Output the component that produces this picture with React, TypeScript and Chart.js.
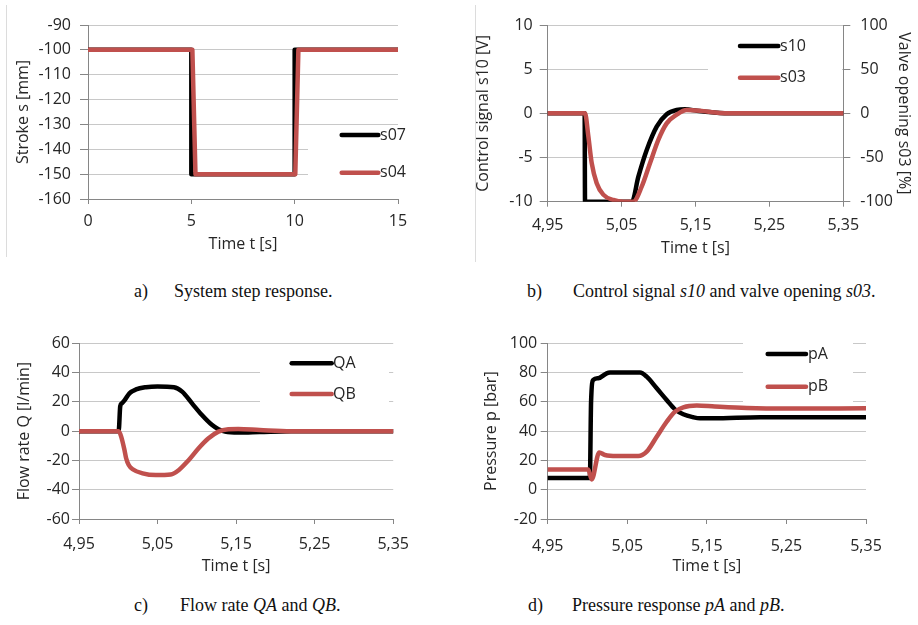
import React, { useEffect, useRef } from 'react';
import { Chart, registerables } from 'chart.js';

Chart.register(...registerables);

// ---------- data ----------
// a) System step response
const A_S07_T = [0, 5, 5, 10, 10, 15];
const A_S07_V = [-100, -100, -150, -150, -100, -100];
const A_S04_T = [0, 5.05, 5.2, 10.03, 10.18, 15];
const A_S04_V = [-100, -100, -150, -150, -100, -100];

// b) Control signal s10 [V] and valve opening s03 [%]
const B_S10_T = [4.95, 5.0, 5.0005, 5.064, 5.0726, 5.084, 5.0975, 5.111, 5.1245, 5.136, 5.152, 5.175, 5.2, 5.35];
const B_S10_V = [0, 0, -10, -10, -7.2, -4.15, -1.5, -0.1, 0.38, 0.45, 0.3, 0.1, 0, 0];
const B_S03_T = [4.95, 5.0005, 5.005, 5.0095, 5.0163, 5.0252, 5.0388, 5.0523, 5.0658, 5.0772, 5.0884, 5.0997, 5.111, 5.1245, 5.138, 5.156, 5.1833, 5.22, 5.35];
const B_S03_V = [0, 0, -26, -56, -79, -92, -98, -100, -100, -83, -56.5, -30, -11.3, -1.5, 3.8, 3, 0.5, 0, 0];

// c) Flow rate QA and QB [l/min]
const C_QA_T = [4.95, 5.0005, 5.0025, 5.0045, 5.0079, 5.0142, 5.0226, 5.0352, 5.0499, 5.0709, 5.0813, 5.0939, 5.1065, 5.1191, 5.1275, 5.136, 5.1527, 5.18, 5.22, 5.35];
const C_QA_V = [0, 0, 17, 19, 21, 25.8, 28.5, 30, 30.5, 30, 27, 19, 11, 4.3, 1.3, -0.3, -1, -0.6, 0, 0];
const C_QB_T = [4.95, 5.0005, 5.0037, 5.0079, 5.01, 5.0133, 5.0184, 5.031, 5.0478, 5.0667, 5.0772, 5.0898, 5.1023, 5.1149, 5.1275, 5.1401, 5.1527, 5.18, 5.22, 5.35];
const C_QB_V = [0, 0, -3.7, -12.9, -18.5, -23.1, -26, -28.8, -30, -29.6, -26.5, -19.7, -11.7, -4.9, -0.3, 1.3, 1.5, 0.8, 0, 0];

// d) Pressure pA and pB [bar]
const D_PA_T = [4.95, 5.003, 5.0045, 5.0073, 5.0136, 5.0241, 5.0283, 5.066, 5.0744, 5.087, 5.0995, 5.11, 5.1204, 5.133, 5.1414, 5.158, 5.2168, 5.35];
const D_PA_V = [8, 8, 60, 75, 76.1, 79.5, 80, 80, 77.2, 69.3, 61.3, 54.9, 51.5, 49.5, 48.8, 48.8, 49.5, 49.5];
const D_PB_T = [4.95, 5.001, 5.0053, 5.0148, 5.022, 5.0367, 5.0639, 5.0744, 5.087, 5.0995, 5.11, 5.1204, 5.1373, 5.16, 5.2, 5.25, 5.35];
const D_PB_V = [13.8, 13.8, 7, 25.5, 23.7, 23, 23, 26, 36.2, 46.4, 53.3, 56.3, 57.5, 56.8, 55.8, 55.4, 55.6];

const ZOOM_X_TICKS = [4.95, 5.05, 5.15, 5.25, 5.35];

// ---------- style ----------
const FONT = 'Open Sans';
const TXT = '#262626';
const AXIS = '#868686';
const GRID = '#c8c8c8';
const BLACK = '#000000';
const RED = '#c0504d';
const LW = 4.5;

Chart.defaults.font.family = FONT;
Chart.defaults.font.size = 16;
Chart.defaults.color = TXT;

const pts = (t: number[], v: number[]) => t.map((x, i) => ({ x, y: v[i] }));

function lineDs(label: string, t: number[], v: number[], color: string, order: number, smooth: boolean, yAxisID = 'y') {
  return {
    label,
    data: pts(t, v),
    borderColor: color,
    backgroundColor: color,
    borderWidth: LW,
    pointRadius: 0,
    fill: false,
    order,
    yAxisID,
    tension: 0,
    cubicInterpolationMode: smooth ? 'monotone' : 'default',
    borderJoinStyle: 'round',
    borderCapStyle: 'round',
  };
}

function makeLegend(cfg: { box: number[]; x1: number; x2: number; tx: number; rows: number[] }) {
  return {
    id: 'legendBox',
    beforeDatasetsDraw(chart: any) {
      const ctx = chart.ctx;
      ctx.save();
      ctx.fillStyle = '#ffffff';
      ctx.fillRect(cfg.box[0], cfg.box[1], cfg.box[2], cfg.box[3]);
      ctx.font = `16px "${FONT}"`;
      ctx.textBaseline = 'middle';
      ctx.textAlign = 'left';
      chart.data.datasets.forEach((ds: any, i: number) => {
        const y = cfg.rows[i];
        ctx.strokeStyle = ds.borderColor;
        ctx.lineWidth = LW;
        ctx.lineCap = 'round';
        ctx.beginPath();
        ctx.moveTo(cfg.x1, y);
        ctx.lineTo(cfg.x2, y);
        ctx.stroke();
        ctx.fillStyle = TXT;
        ctx.fillText(ds.label, cfg.tx, y);
      });
      ctx.restore();
    },
  };
}

const fmtComma = (v: any) => Number(v).toFixed(2).replace('.', ',');

function xAxis(opts: { min: number; max: number; step?: number; fixedTicks?: number[]; height: number; pad: number; titlePad: number; comma?: boolean }) {
  const s: any = {
    type: 'linear',
    min: opts.min,
    max: opts.max,
    ticks: {
      padding: opts.pad,
      maxRotation: 0,
      autoSkip: false,
      color: TXT,
    },
    grid: { drawOnChartArea: false, drawTicks: true, tickLength: 5, tickColor: AXIS },
    border: { color: AXIS, width: 1 },
    title: { display: true, text: 'Time t [s]', color: TXT, padding: { top: 0, bottom: opts.titlePad } },
    afterFit(scale: any) {
      scale.height = opts.height;
    },
  };
  if (opts.step) s.ticks.stepSize = opts.step;
  if (opts.comma) s.ticks.callback = fmtComma;
  if (opts.fixedTicks) {
    const ft = opts.fixedTicks;
    s.afterBuildTicks = (scale: any) => {
      scale.ticks = ft.map((value) => ({ value }));
    };
  }
  return s;
}

function yAxis(opts: { min: number; max: number; step: number; width: number; tl: number; pad: number; title: string; titlePad: number; position?: string; grid?: boolean }) {
  return {
    type: 'linear',
    position: opts.position || 'left',
    min: opts.min,
    max: opts.max,
    ticks: { stepSize: opts.step, padding: opts.pad, color: TXT },
    grid: {
      drawOnChartArea: opts.grid !== false,
      color: GRID,
      tickColor: AXIS,
      tickLength: opts.tl,
      lineWidth: 1,
    },
    border: { color: AXIS, width: 1 },
    title: { display: true, text: opts.title, color: TXT, padding: { top: opts.titlePad, bottom: 0 } },
    afterFit(scale: any) {
      scale.width = opts.width;
    },
  };
}

function baseOptions(padding: any, scales: any) {
  return {
    responsive: false,
    maintainAspectRatio: false,
    animation: false,
    devicePixelRatio: 1,
    layout: { padding },
    plugins: { legend: { display: false }, tooltip: { enabled: false } },
    events: [],
    scales,
  };
}

// ---------- chart configs ----------
const configA = () => ({
  type: 'line',
  data: {
    datasets: [
      lineDs('s07', A_S07_T, A_S07_V, BLACK, 1, false),
      lineDs('s04', A_S04_T, A_S04_V, RED, 0, false),
    ],
  },
  options: baseOptions({ left: 0, top: 25, right: 22, bottom: 0 }, {
    x: xAxis({ min: 0, max: 15, step: 5, height: 71, pad: 8, titlePad: 16 }),
    y: yAxis({ min: -160, max: -90, step: 10, width: 88, tl: 8, pad: 9, title: 'Stroke s [mm]', titlePad: 13.5 }),
  }),
  plugins: [makeLegend({ box: [308, 127, 90, 62], x1: 341.7, x2: 378.3, tx: 380, rows: [135, 172.7] })],
});

const configB = () => ({
  type: 'line',
  data: {
    datasets: [
      lineDs('s10', B_S10_T, B_S10_V, BLACK, 1, true, 'y'),
      lineDs('s03', B_S03_T, B_S03_V, RED, 0, true, 'y1'),
    ],
  },
  options: baseOptions({ left: 0, top: 25, right: 0, bottom: 0 }, {
    x: xAxis({ min: 4.95, max: 5.35, fixedTicks: ZOOM_X_TICKS, height: 68.3, pad: 9, titlePad: 12.4, comma: true }),
    y: yAxis({ min: -10, max: 10, step: 5, width: 87.7, tl: 8, pad: 7, title: 'Control signal s10 [V]', titlePad: 14 }),
    y1: yAxis({ min: -100, max: 100, step: 50, width: 74.7, tl: 7, pad: 10, title: 'Valve opening s03 [%]', titlePad: 5, position: 'right', grid: false }),
  }),
  plugins: [makeLegend({ box: [248, 34, 134, 60], x1: 280, x2: 318.3, tx: 320, rows: [46, 77.7] })],
});

const configC = () => ({
  type: 'line',
  data: {
    datasets: [
      lineDs('QA', C_QA_T, C_QA_V, BLACK, 1, true),
      lineDs('QB', C_QB_T, C_QB_V, RED, 0, true),
    ],
  },
  options: baseOptions({ left: 0, top: 23.3, right: 23.3, bottom: 0 }, {
    x: xAxis({ min: 4.95, max: 5.35, fixedTicks: ZOOM_X_TICKS, height: 66, pad: 11, titlePad: 9.4, comma: true }),
    y: yAxis({ min: -60, max: 60, step: 20, width: 79, tl: 7, pad: 2, title: 'Flow rate Q [l/min]', titlePad: 14.6 }),
  }),
  plugins: [makeLegend({ box: [260, 31, 129, 60], x1: 291.7, x2: 331.7, tx: 333, rows: [43.3, 74] })],
});

const configD = () => ({
  type: 'line',
  data: {
    datasets: [
      lineDs('pA', D_PA_T, D_PA_V, BLACK, 1, true),
      lineDs('pB', D_PB_T, D_PB_V, RED, 0, true),
    ],
  },
  options: baseOptions({ left: 0, top: 23.3, right: 52, bottom: 0 }, {
    x: xAxis({ min: 4.95, max: 5.35, fixedTicks: ZOOM_X_TICKS, height: 66, pad: 13, titlePad: 9, comma: true }),
    y: yAxis({ min: -20, max: 100, step: 20, width: 87.7, tl: 7, pad: 3.5, title: 'Pressure p [bar]', titlePad: 22 }),
  }),
  plugins: [makeLegend({ box: [283, 14, 110, 72], x1: 307.7, x2: 346, tx: 348, rows: [34, 66.7] })],
});

// ---------- components ----------
function ChartCanvas(props: { left: number; top: number; width: number; height: number; config: () => any }) {
  const ref = useRef<HTMLCanvasElement>(null);
  useEffect(() => {
    const chart = new Chart(ref.current as HTMLCanvasElement, props.config() as any);
    return () => chart.destroy();
  }, []);
  return (
    <canvas
      ref={ref}
      width={props.width}
      height={props.height}
      style={{ position: 'absolute', left: props.left, top: props.top, width: props.width, height: props.height, display: 'block' }}
    />
  );
}

const capStyle: React.CSSProperties = {
  position: 'absolute',
  fontFamily: '"Liberation Serif", serif',
  fontSize: 18,
  lineHeight: '18px',
  color: '#111',
  whiteSpace: 'nowrap',
};

function Caption(props: { left: number; top: number; children: React.ReactNode }) {
  return <div style={{ ...capStyle, left: props.left, top: props.top }}>{props.children}</div>;
}

export default function App() {
  return (
    <div style={{ position: 'absolute', left: 0, top: 0, width: 918, height: 625, background: '#ffffff', overflow: 'hidden' }}>
      <div style={{ position: 'absolute', left: 6, top: 5, width: 1, height: 252, background: '#dcdcdc' }} />
      <div style={{ position: 'absolute', left: 475, top: 5, width: 1, height: 257, background: '#dcdcdc' }} />
      <ChartCanvas left={0} top={0} width={420} height={270} config={configA} />
      <ChartCanvas left={460} top={0} width={458} height={270} config={configB} />
      <ChartCanvas left={0} top={320} width={420} height={265} config={configC} />
      <ChartCanvas left={460} top={320} width={458} height={265} config={configD} />

      <Caption left={134} top={282}>a)</Caption>
      <Caption left={174} top={282}>System step response.</Caption>
      <Caption left={527} top={282}>b)</Caption>
      <Caption left={573} top={282}>
        Control signal <i>s10</i> and valve opening <i>s03</i>.
      </Caption>
      <Caption left={134} top={596}>c)</Caption>
      <Caption left={180} top={596}>
        Flow rate <i>QA</i> and <i>QB</i>.
      </Caption>
      <Caption left={528} top={596}>d)</Caption>
      <Caption left={572} top={596}>
        Pressure response <i>pA</i> and <i>pB</i>.
      </Caption>
    </div>
  );
}
